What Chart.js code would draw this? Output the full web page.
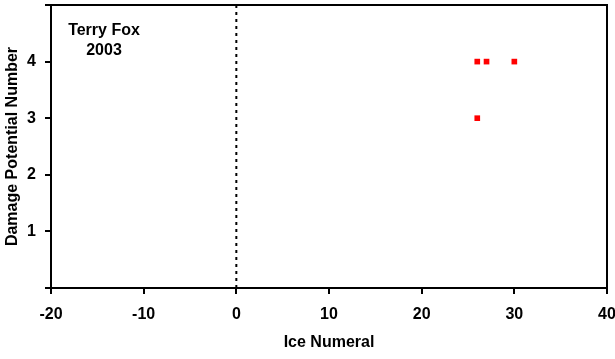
<!DOCTYPE html>
<html><head><meta charset="utf-8">
<script src="https://cdn.jsdelivr.net/npm/chart.js@4"></script>
<style>html,body{margin:0;padding:0;background:#fff}#wrap{width:615px;height:359px}</style>
</head><body><div id="wrap"><canvas id="c" width="615" height="359"></canvas></div>
<script>
const iceNumeral = [26, 27, 30, 26];
const damagePotential = [4, 4, 4, 3];
const xTicks = [-20, -10, 0, 10, 20, 30, 40];
const yTicks = [0, 1, 2, 3, 4, 5];
const yLabelled = [1, 2, 3, 4];
const refLineX = [0, 0];
const refLineY = [0, 5];
const annotationLines = ['Terry Fox', '2003'];

const FONT = "'Liberation Sans', Arial, sans-serif";

const frame = {
  id: 'frame',
  afterDatasetsDraw(chart) {
    const {ctx, chartArea: a} = chart;
    ctx.save();
    ctx.strokeStyle = '#000';
    ctx.lineWidth = 2;
    ctx.beginPath();
    ctx.moveTo(a.left, a.top); ctx.lineTo(a.right, a.top); ctx.lineTo(a.right, a.bottom);
    ctx.stroke();
    ctx.fillStyle = '#000';
    ctx.font = 'bold 16px ' + FONT;
    ctx.textAlign = 'center';
    ctx.textBaseline = 'middle';
    ctx.fillText(annotationLines[0], a.left + 53, a.top + 26);
    ctx.fillText(annotationLines[1], a.left + 53, a.top + 46);
    ctx.restore();
  }
};

new Chart(document.getElementById('c'), {
  type: 'scatter',
  data: {
    datasets: [
      {
        data: refLineX.map((x, i) => ({x, y: refLineY[i]})),
        showLine: true,
        borderColor: '#000',
        borderWidth: 2,
        borderDash: [3, 4],
        pointRadius: 0,
        order: 2
      },
      {
        data: iceNumeral.map((x, i) => ({x, y: damagePotential[i]})),
        pointStyle: 'rect',
        pointRadius: 4,
        pointBorderWidth: 0,
        backgroundColor: '#ff0000',
        borderColor: '#ff0000',
        order: 1
      }
    ]
  },
  options: {
    responsive: false,
    animation: false,
    layout: {padding: {left: 0, right: 8, top: 5, bottom: 0}},
    plugins: {legend: {display: false}, tooltip: {enabled: false}},
    scales: {
      x: {
        type: 'linear', min: -20, max: 40,
        afterBuildTicks: s => { s.ticks = xTicks.map(v => ({value: v})); },
        afterFit: s => { s.height = 71; s.paddingLeft = 0; s.paddingRight = 0; },
        grid: {drawOnChartArea: false, drawTicks: true, tickLength: 6, color: '#000', lineWidth: 2},
        border: {display: true, color: '#000', width: 2},
        ticks: {color: '#000', padding: 11, maxRotation: 0, font: {family: FONT, size: 16, weight: 'bold'}},
        title: {display: true, text: 'Ice Numeral', color: '#000', padding: {top: 0, bottom: 7}, font: {family: FONT, size: 16, weight: 'bold'}}
      },
      y: {
        type: 'linear', min: 0, max: 5,
        afterBuildTicks: s => { s.ticks = yTicks.map(v => ({value: v})); },
        afterFit: s => { s.width = 51; s.paddingTop = 0; s.paddingBottom = 0; },
        grid: {drawOnChartArea: false, drawTicks: true, tickLength: 6, color: '#000', lineWidth: 2},
        border: {display: true, color: '#000', width: 2},
        ticks: {color: '#000', padding: 9, font: {family: FONT, size: 16, weight: 'bold'},
          callback: v => yLabelled.includes(v) ? String(v) : ''},
        title: {display: true, text: 'Damage Potential Number', color: '#000', padding: {top: 3, bottom: 0}, font: {family: FONT, size: 16, weight: 'bold'}}
      }
    }
  },
  plugins: [frame]
});
</script></body></html>
